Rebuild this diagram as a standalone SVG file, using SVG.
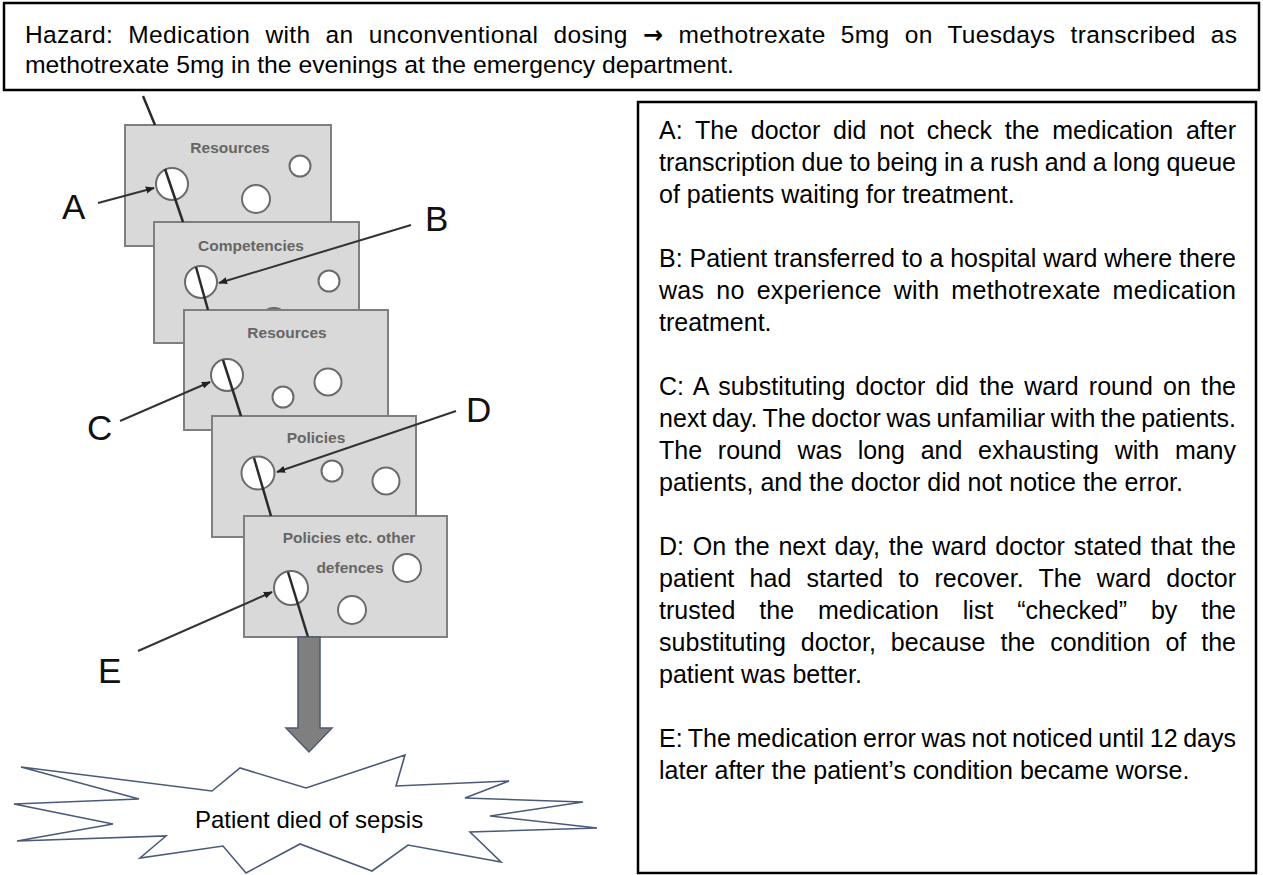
<svg xmlns="http://www.w3.org/2000/svg" width="1263" height="875" viewBox="0 0 1263 875">
<style>
.box{fill:#fff;stroke:#000;stroke-width:2.5}
.t{font-family:"Liberation Sans",Arial,sans-serif;font-size:25px;fill:#000}
.h{font-size:24.5px}
.arr{font-family:"DejaVu Sans",sans-serif;font-weight:bold;font-size:24px}
.slice{fill:#d9d9d9;stroke:#7f7f7f;stroke-width:2}
.hole{fill:#fff;stroke:#6b6b6b;stroke-width:2}
.traj{stroke:#2b2b2b;stroke-width:2.5;fill:none}
.st{font-family:"Liberation Sans",Arial,sans-serif;font-size:15.5px;font-weight:bold;fill:#666;text-anchor:middle}
.lbl{font-family:"Liberation Sans",Arial,sans-serif;font-size:35px;fill:#111}
.ptr{stroke:#333;stroke-width:2;fill:none;marker-end:url(#ah)}
.burst{fill:#fff;stroke:#4a5a78;stroke-width:1.6;stroke-linejoin:miter}
.block{fill:#7f7f7f;stroke:#4f5b6e;stroke-width:1.5}
</style>
<defs>
<marker id="ah" viewBox="0 0 10 10" refX="9" refY="5" markerWidth="4.5" markerHeight="4.5" orient="auto" markerUnits="strokeWidth"><path d="M0,1 L10,5 L0,9 z" fill="#222"/></marker>
</defs>

<g id="hazard-box">
<rect class="box" x="4" y="3" width="1255" height="87"/>
<text class="t h" x="25" y="43" word-spacing="8" textLength="1212" lengthAdjust="spacing">Hazard: Medication with an unconventional dosing <tspan class="arr">→</tspan> methotrexate 5mg on Tuesdays transcribed as</text>
<text class="t h" x="25" y="73" textLength="709" lengthAdjust="spacingAndGlyphs">methotrexate 5mg in the evenings at the emergency department.</text>
</g>

<g id="causes-box">
<rect class="box" x="638" y="102" width="618" height="771"/>
<text class="t" x="659" y="139" word-spacing="5.8" textLength="577" lengthAdjust="spacing">A: The doctor did not check the medication after</text>
<text class="t" x="659" y="171" word-spacing="-0.7" textLength="577" lengthAdjust="spacing">transcription due to being in a rush and a long queue</text>
<text class="t" x="659" y="203">of patients waiting for treatment.</text>
<text class="t" x="659" y="267" word-spacing="-0.1" textLength="577" lengthAdjust="spacing">B: Patient transferred to a hospital ward where there</text>
<text class="t" x="659" y="299" word-spacing="4.8" textLength="577" lengthAdjust="spacing">was no experience with methotrexate medication</text>
<text class="t" x="659" y="331">treatment.</text>
<text class="t" x="659" y="395" word-spacing="3.1" textLength="577" lengthAdjust="spacing">C: A substituting doctor did the ward round on the</text>
<text class="t" x="659" y="427" word-spacing="-1.5" textLength="577" lengthAdjust="spacing">next day. The doctor was unfamiliar with the patients.</text>
<text class="t" x="659" y="459" word-spacing="8.8" textLength="577" lengthAdjust="spacing">The round was long and exhausting with many</text>
<text class="t" x="659" y="491">patients, and the doctor did not notice the error.</text>
<text class="t" x="659" y="555" word-spacing="1.7" textLength="577" lengthAdjust="spacing">D: On the next day, the ward doctor stated that the</text>
<text class="t" x="659" y="587" word-spacing="8.2" textLength="577" lengthAdjust="spacing">patient had started to recover. The ward doctor</text>
<text class="t" x="659" y="619" word-spacing="17" textLength="577" lengthAdjust="spacing">trusted the medication list “checked” by the</text>
<text class="t" x="659" y="651" word-spacing="7.9" textLength="577" lengthAdjust="spacing">substituting doctor, because the condition of the</text>
<text class="t" x="659" y="683">patient was better.</text>
<text class="t" x="659" y="747" word-spacing="-1.35" textLength="577" lengthAdjust="spacing">E: The medication error was not noticed until 12 days</text>
<text class="t" x="659" y="779">later after the patient’s condition became worse.</text>
</g>

<g id="slice-1">
<rect class="slice" x="125" y="125" width="206" height="121"/>
<text class="st" x="230" y="153">Resources</text>
<circle class="hole" cx="172" cy="184" r="16"/>
<circle class="hole" cx="300" cy="166" r="10.5"/>
<circle class="hole" cx="256" cy="199" r="14"/>
</g>
<g id="slice-2">
<rect class="slice" x="154" y="222" width="205" height="121"/>
<text class="st" x="251" y="251">Competencies</text>
<circle class="hole" cx="201" cy="282" r="16"/>
<circle class="hole" cx="329" cy="281" r="10.5"/>
<circle class="hole" cx="274" cy="322" r="14"/>
</g>
<g id="slice-3">
<rect class="slice" x="184" y="310" width="204" height="120"/>
<text class="st" x="287" y="338">Resources</text>
<circle class="hole" cx="227" cy="375" r="16"/>
<circle class="hole" cx="283" cy="397" r="10.5"/>
<circle class="hole" cx="328" cy="382" r="13.5"/>
</g>
<g id="slice-4">
<rect class="slice" x="212" y="416" width="204" height="121"/>
<text class="st" x="316" y="443">Policies</text>
<circle class="hole" cx="258" cy="473" r="16.5"/>
<circle class="hole" cx="332" cy="471" r="10.5"/>
<circle class="hole" cx="386" cy="481" r="13.5"/>
</g>
<g id="slice-5">
<rect class="slice" x="244" y="516" width="203" height="121"/>
<text class="st" x="349" y="543">Policies etc. other</text>
<text class="st" x="350" y="573">defences</text>
<circle class="hole" cx="291" cy="588" r="17"/>
<circle class="hole" cx="407" cy="568" r="14"/>
<circle class="hole" cx="352" cy="610" r="14"/>
</g>

<g id="outcome">
<polygon class="burst" points="21,767 212,791 240,768 306,788 405,755 396,786 509,781 465,798 583,802 490,816 597,828 470,832 501,862 408,845 372,871 300,844 246,873 223,846 140,858 166,836 17,841 113,824 14,804 139,799"/>
<text class="t" x="195" y="828" style="font-size:24px">Patient died of sepsis</text>
</g>

<g id="label-A"><text class="lbl" x="62" y="219">A</text></g>
<g id="label-B"><text class="lbl" x="425" y="231">B</text></g>
<g id="label-C"><text class="lbl" x="87" y="440">C</text></g>
<g id="label-D"><text class="lbl" x="466" y="422">D</text></g>
<g id="label-E"><text class="lbl" x="98" y="683">E</text></g>

<g id="connectors">
<path class="traj" d="M143,96 L155,125"/>
<path class="traj" d="M165,169 L183,222"/>
<path class="traj" d="M196,267 L208,310"/>
<path class="traj" d="M223,360 L241,416"/>
<path class="traj" d="M254,458 L271,516"/>
<path class="traj" d="M288,572 L308,637"/>
<path class="ptr" d="M98,203 L154,188"/>
<path class="ptr" d="M411,225 L219,283"/>
<path class="ptr" d="M120,421 L210,382"/>
<path class="ptr" d="M456,411 L277,472"/>
<path class="ptr" d="M138,651 L272,592"/>
<path class="block" d="M298,637 L320,637 L320,728 L332,728 L309,752 L286,728 L298,728 Z"/>
</g>
</svg>
